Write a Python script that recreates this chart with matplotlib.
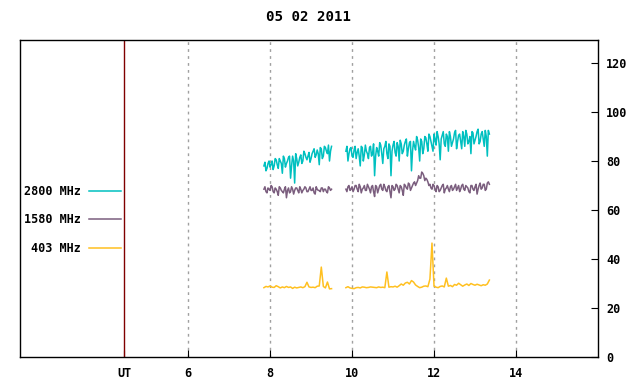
import numpy as np
import matplotlib
matplotlib.use("Agg")
from matplotlib import pyplot as plt


# sample times (hours UT), two observing segments, plus half-step samples
t_seg1 = np.round(np.arange(7.85, 9.51, 0.05), 3)
t_seg2 = np.round(np.arange(9.85, 13.36, 0.05), 3)
t_mid1 = t_seg1[:-1] + 0.025
t_mid2 = t_seg2[:-1] + 0.025

# 2800 MHz flux
f2800_seg1 = [78, 76, 79, 77.5, 80, 78, 80.5, 77, 80, 75, 81, 79, 81.5, 73, 82, 71, 81,
              79.5, 82.5, 80, 83, 80.5, 83.5, 81, 84, 81.5, 84.5, 78.5, 85, 82, 85.5, 83, 80, 86]
f2800_mid1 = [79.5, 77, 80, 78.5, 76.5, 81, 78.5, 81, 79, 82, 77.5, 80, 82, 78, 80, 83, 78,
              81.5, 79, 84, 81.5, 82, 79.5, 83, 85, 82.5, 83, 85.5, 81, 86, 84, 86.5, 84]
f2800_seg2 = [84, 80, 85, 82, 84.5, 81, 85, 78, 85.5, 82.5, 84, 81, 86, 83, 74, 85.5, 82,
              86.5, 79, 86, 83, 87, 74, 86.5, 83.5, 87.5, 80, 87, 84, 88, 82, 87.5, 76, 88,
              84.5, 88.5, 80, 88, 85, 89.5, 84, 90, 86, 91, 86.5, 90, 80.5, 90.5, 87, 91, 84,
              90, 87.5, 91.5, 85, 90.5, 88, 92, 86, 91, 88, 83, 91.5, 88.5, 92, 87, 91, 89,
              92.5, 82, 91]
f2800_mid2 = [86, 83, 85.5, 81.5, 86, 83.5, 82, 86, 80, 86.5, 83, 85.5, 82, 87, 82, 84,
              87.5, 83, 85, 88, 81, 86, 84, 88, 82, 86, 88.5, 83, 86.5, 89, 85, 88, 84, 86,
              90, 85.5, 89, 83, 90, 87, 91, 88, 84, 89, 92, 87, 89, 92, 86, 90, 92, 86, 89,
              92.5, 88, 91, 85, 90, 92.5, 87, 90, 92, 87, 90, 93, 88, 92, 86, 90, 92.5]

# 1580 MHz flux
f1580_seg1 = [68.5, 67.5, 69, 68, 69.5, 67, 68.5, 66, 69, 67.5, 68.5, 65, 69, 67.5, 68.5, 68,
              69, 67, 68.5, 68, 69.5, 67.5, 68.5, 68, 69, 66.5, 68.5, 68, 69, 67.5, 68.5, 67,
              69, 68.5]
f1580_mid1 = [69.5, 67, 68.5, 70, 67.5, 69, 67.5, 69.5, 68, 67, 69.5, 68, 67, 69.5, 66.5, 69,
              68, 69.5, 67, 68.5, 69, 67.5, 69.5, 68, 67, 69.5, 68, 67.5, 69, 68.5, 67.5, 69.5, 68]
f1580_seg2 = [68.5, 69.5, 68, 69.5, 68.5, 70, 67.5, 69.5, 68.5, 70, 68, 69.5, 67, 70, 65.5,
              69.5, 68.5, 70.5, 68, 69.5, 67.5, 70, 65, 69.5, 68.5, 70, 67, 69.5, 66, 70, 68.5,
              70.5, 69, 71, 70, 72, 73, 75.5, 74, 73, 71.5, 70.5, 68.5, 70, 67.5, 69.5, 68, 70,
              67, 69, 68.5, 69.5, 68, 69.5, 68, 70, 68.5, 70.5, 68, 69.5, 67.5, 70, 68.5, 69.5,
              66.5, 70, 68.5, 70.5, 68, 71, 70.5]
f1580_mid2 = [67.5, 70, 68.5, 67.5, 70, 68.5, 70.5, 67, 69, 68, 70.5, 68.5, 69.5, 67.5, 70,
              67, 70, 68.5, 70.5, 68, 69.5, 67.5, 70, 68, 70.5, 68.5, 70, 68, 70.5, 69, 71, 68,
              70, 71.5, 71, 74, 73, 75, 72, 72.5, 70, 69, 70.5, 68.5, 70, 67.5, 69, 70.5, 68.5,
              70, 67.5, 70, 68.5, 70.5, 69, 67.5, 70, 68.5, 70, 69, 67, 70, 68, 70.5, 68.5, 71,
              69, 70.5, 68.5, 71.5]

# 403 MHz flux
f403_seg1 = [28.3, 28.8, 28.6, 29.0, 28.5, 28.4, 29.1, 28.7, 28.2, 28.6, 28.3, 28.8, 28.4,
             28.6, 28.0, 28.5, 28.2, 28.4, 28.6, 28.3, 28.7, 30.5, 28.6, 28.4, 28.5, 28.3,
             28.9, 29.0, 36.7, 28.8, 28.2, 30.6, 27.8, 27.9]
f403_seg2 = [28.3, 28.7, 28.2, 28.0, 27.9, 28.3, 28.4, 28.2, 28.6, 28.5, 28.3, 28.4, 28.6,
             28.5, 28.4, 28.3, 28.6, 28.4, 28.5, 28.3, 34.7, 28.5, 28.7, 28.6, 28.9, 28.5,
             29.1, 29.8, 29.3, 30.2, 30.5, 29.8, 31.2, 30.6, 29.4, 28.8, 28.3, 28.5, 28.9,
             29.0, 28.7, 31.8, 46.5, 28.9, 28.5, 28.3, 28.8, 29.0, 28.6, 32.2, 28.9, 29.2,
             28.7, 29.6, 29.3, 30.1, 29.5, 28.9, 29.4, 29.8, 29.2, 30.0, 29.6, 29.3, 29.7,
             29.4, 29.1, 29.5, 29.3, 29.8, 31.4]

labels = ["2800 MHz", "1580 MHz", "403 MHz"]
colors = ["#00c0c0", "#7b5e7e", "#ffc020"]
hour_ticks = [6, 8, 10, 12, 14]
y_ticks = [0, 20, 40, 60, 80, 100, 120]
ut_hour = 4.44
title = "05 02 2011"


def interleave(t_main, v_main, t_half, v_half):
    t = np.empty(len(t_main) + len(t_half))
    v = np.empty(len(t_main) + len(t_half))
    t[0::2], t[1::2] = t_main, t_half
    v[0::2], v[1::2] = v_main, v_half
    return t, v


plt.rcParams['font.family'] = ['DejaVu Sans Mono']
plt.rcParams['font.weight'] = 'bold'
plt.rcParams['font.size'] = 8.5

fig = plt.figure(figsize=(6.4, 3.84), dpi=100)
ax = fig.add_axes([20 / 640, 27 / 384, 578 / 640, 317 / 384])

for h in hour_ticks:
    ax.axvline(h, color="#a0a0a0", lw=1, ls=(0, (2, 3)), zorder=1)
ax.axvline(ut_hour, color="#800000", lw=1, zorder=2)

series = [
    (interleave(t_seg1, f2800_seg1, t_mid1, f2800_mid1),
     interleave(t_seg2, f2800_seg2, t_mid2, f2800_mid2)),
    (interleave(t_seg1, f1580_seg1, t_mid1, f1580_mid1),
     interleave(t_seg2, f1580_seg2, t_mid2, f1580_mid2)),
    ((t_seg1, f403_seg1), (t_seg2, f403_seg2)),
]
handles = []
for (s1, s2), lab, col in zip(series, labels, colors):
    line, = ax.plot(s1[0], s1[1], color=col, lw=1.1, label=lab, zorder=3)
    ax.plot(s2[0], s2[1], color=col, lw=1.1, zorder=3)
    handles.append(line)

ax.set_xlim(1.9, 16.0)
ax.set_ylim(0, 129.4)

ax.set_xticks([ut_hour] + hour_ticks)
ax.set_xticklabels(["UT"] + [str(h) for h in hour_ticks])
ax.tick_params(axis='x', direction='in', length=5, pad=7, color='black')
ax.yaxis.tick_right()
ax.set_yticks(y_ticks)
ax.tick_params(axis='y', direction='in', length=5, pad=6)

for sp in ax.spines.values():
    sp.set_linewidth(1)

ax.set_title(title, pad=14, fontweight='bold')

ax.legend(handles=handles, loc='upper right', bbox_to_anchor=(121 / 640, 199 / 384),
          bbox_transform=fig.transFigure, frameon=False, markerfirst=False,
          borderpad=0, borderaxespad=0, handlelength=2.7, handletextpad=0.7,
          labelspacing=1.3)

fig.savefig("out.png", dpi=100)
